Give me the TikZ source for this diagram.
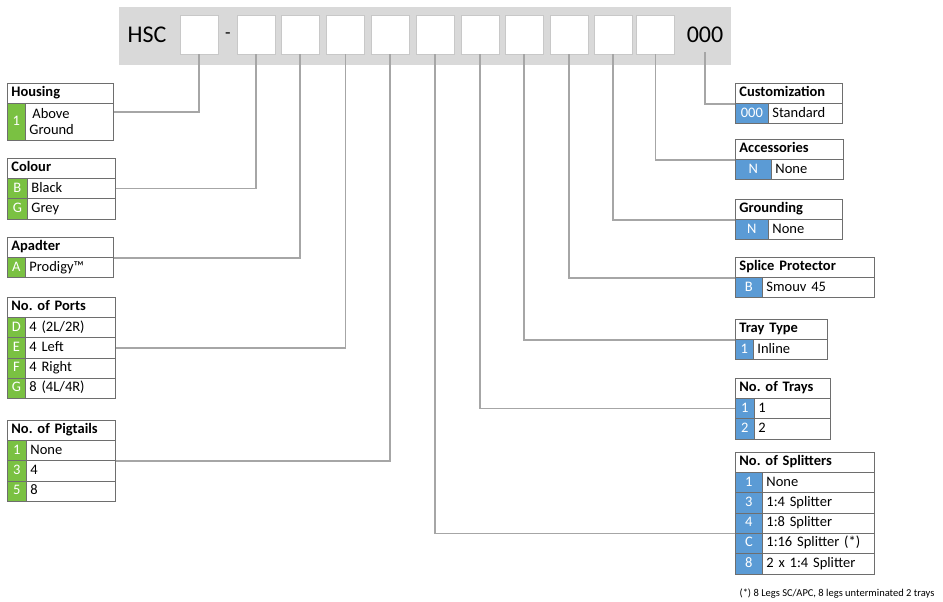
\documentclass[tikz,border=0pt]{standalone}
\usepackage{fontspec}
\setmainfont{Carlito}
\usepackage{tikz}
\frenchspacing

\definecolor{codegreen}{RGB}{122,193,66}
\definecolor{codeblue}{RGB}{91,155,213}
\definecolor{barfill}{RGB}{217,217,217}
\definecolor{tabline}{RGB}{110,110,110}
\definecolor{slotline}{RGB}{200,200,200}
\definecolor{wirecol}{RGB}{166,166,166}

% name, x, y, title, width, code width, colour, rows
\newcommand\optable[8]{%
  \pgfmathsetmacro\tw{#5-8}\pgfmathsetmacro\lw{#5-#6-8}%
  \node[hdr, text width=\tw pt] (#1-t) at (#2,#3) {#4};
  \foreach \code/\txt [count=\i] in {#8} {
    \node[codecell, fill=#7, minimum width=#6pt] (#1-c\i) at ({#2},{#3+20+(\i-1)*20.3}) {\code};
    \node[labcell, text width=\lw pt] (#1-r\i) at ({#2+#6},{#3+20+(\i-1)*20.3}) {\txt};
  }}

\begin{document}
\begin{tikzpicture}[x=1pt, y=-1pt,
    hdr/.style={draw=tabline, line width=0.8pt, anchor=north west, minimum height=20pt,
      inner xsep=4pt, inner ysep=0pt, align=left, text height=10pt, text depth=3pt,
      font=\fontsize{14.5}{16}\selectfont\bfseries},
    codecell/.style={draw=tabline, line width=0.8pt, anchor=north west, minimum height=20.3pt,
      inner sep=0pt, text=white, text height=10pt, text depth=3pt, font=\fontsize{14.5}{16}\selectfont},
    labcell/.style={draw=tabline, line width=0.8pt, anchor=north west, minimum height=20.3pt,
      inner xsep=4pt, inner ysep=0pt, align=left, text height=10pt, text depth=3pt,
      font=\fontsize{14.5}{16}\selectfont},
    slot/.style={draw=slotline, fill=white, minimum width=38pt, minimum height=39pt, inner sep=0pt},
    wire/.style={draw=wirecol, line width=1.5pt}]
  \useasboundingbox (0,0) rectangle (943,602);

  % part number bar
  \node[fill=barfill, anchor=north west, minimum width=612pt, minimum height=58pt, inner sep=0pt] (bar) at (119,7) {};
  \node[font=\fontsize{24}{28}\selectfont] (hsc) at (147,35) {HSC};
  \node[font=\fontsize{18}{22}\selectfont] (dash) at (228,36) {-};
  \node[font=\fontsize{24}{28}\selectfont, inner ysep=9pt] (sfx) at (705,35) {000};
  \foreach \x [count=\i] in {199,256,300,345.5,390,435,480,524,569,613,655.5}
    \node[slot] (s\i) at (\x,34.5) {};

  % housing has a two line row
  \node[hdr, text width=98pt] (hou-t) at (7,83) {Housing};
  \node[codecell, fill=codegreen, minimum width=18pt, minimum height=37pt] (hou-c1) at (7,103) {1};
  \node[labcell, text width=80pt, minimum height=37pt, text height=, text depth=] (hou-r1) at (25,103)
    {\hspace{3pt}Above\\Ground};

  \optable{col}{7}{158}{Colour}{108}{20}{codegreen}{B/Black, G/Grey}
  \optable{ada}{7}{237}{Apadter}{106}{18}{codegreen}{A/Prodigy\texttrademark}
  \optable{prt}{7}{297}{No. of Ports}{108}{18}{codegreen}{D/{4 (2L/2R)}, E/4 Left, F/4 Right, G/{8 (4L/4R)}}
  \optable{pig}{7}{420}{No. of Pigtails}{108}{19}{codegreen}{1/None, 3/4, 5/8}

  \optable{cus}{735}{83}{Customization}{107}{33}{codeblue}{000/Standard}
  \optable{acc}{735}{139}{Accessories}{108}{36}{codeblue}{N/None}
  \optable{gnd}{735}{199}{Grounding}{107}{33}{codeblue}{N/None}
  \optable{sp}{735}{257}{Splice Protector}{139}{27}{codeblue}{B/Smouv 45}
  \optable{tt}{735}{319}{Tray Type}{92}{18}{codeblue}{1/Inline}
  \optable{try}{735}{378}{No. of Trays}{95}{19}{codeblue}{1/1, 2/2}
  \optable{spl}{735}{452}{No. of Splitters}{139}{27}{codeblue}{1/None, 3/1:4 Splitter, 4/1:8 Splitter, C/{1:16 Splitter (*)}, 8/2 x 1:4 Splitter}

  \node[anchor=east, font=\fontsize{10.5}{12}\selectfont] (note) at (938,594) {(*) 8 Legs SC/APC, 8 legs unterminated 2 trays};

  \draw[wire] (s1.south) |- ([yshift=-8pt]hou-t.south east);
  \draw[wire] (s2.south) |- (col-r1.east);
  \draw[wire] (s3.south) |- (ada-t.south east);
  \draw[wire] (s4.south) |- (prt-r2.east);
  \draw[wire] (s5.south) |- (pig-r1.south east);
  \draw[wire] (s6.south) |- (spl-c3.south west);
  \draw[wire] (s7.south) |- (try-c1.west);
  \draw[wire] (s8.south) |- (tt-t.south west);
  \draw[wire] (s9.south) |- (sp-t.south west);
  \draw[wire] (s10.south) |- (gnd-t.south west);
  \draw[wire] (s11.south) |- (acc-t.south west);
  \draw[wire] (sfx.south) |- (cus-t.south west);
\end{tikzpicture}
\end{document}
